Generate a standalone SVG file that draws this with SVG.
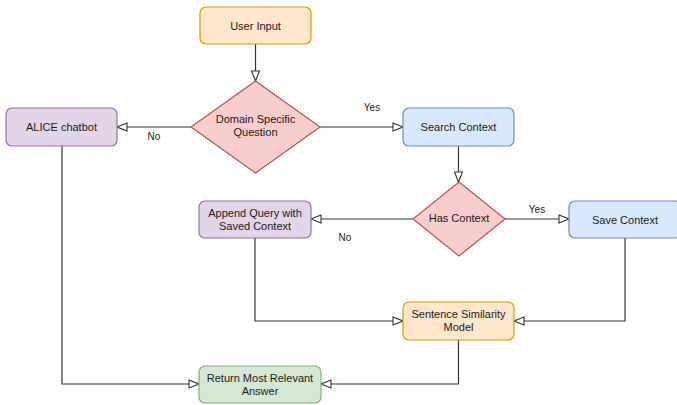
<svg xmlns="http://www.w3.org/2000/svg" width="677" height="405" viewBox="0 0 677 405">
  <style>
    .box { stroke-width: 1.2; }
    .orange { fill: #ffe6cc; stroke: #d79b00; }
    .red { fill: #f8cecc; stroke: #b85450; }
    .purple { fill: #e1d5e7; stroke: #9673a6; }
    .blue { fill: #dae8fc; stroke: #6c8ebf; }
    .green { fill: #d5e8d4; stroke: #82b366; }
    .label { font-family: "Liberation Sans", Arial, Helvetica, sans-serif; font-size: 11px; fill: #1a1a1a; text-anchor: middle; }
    .edge { fill: none; stroke: #333333; stroke-width: 1.2; marker-end: url(#open); }
    .elabel { font-family: "Liberation Sans", Arial, Helvetica, sans-serif; font-size: 10px; fill: #1a1a1a; text-anchor: middle; }
  </style>
  <defs>
    <marker id="open" viewBox="0 0 12 10" refX="11" refY="5" markerWidth="12" markerHeight="10" markerUnits="userSpaceOnUse" orient="auto">
      <path d="M1,1 L11,5 L1,9 Z" fill="#ffffff" stroke="#333333" stroke-width="1.1"/>
    </marker>
  </defs>
  <rect width="677" height="405" fill="#ffffff"/>

  <g id="connectors">
    <path class="edge" d="M255.5,44 L255.5,81"/>
    <path class="edge" d="M191,127 L117,127"/>
    <path class="edge" d="M320,127 L403,127"/>
    <path class="edge" d="M458.5,146 L458.5,182"/>
    <path class="edge" d="M413,219 L311,219"/>
    <path class="edge" d="M505,219 L569,219"/>
    <path class="edge" d="M62,146 L62,384 L199,384"/>
    <path class="edge" d="M255,238 L255,321 L403,321"/>
    <path class="edge" d="M625,238 L625,321 L514,321"/>
    <path class="edge" d="M458.5,340 L458.5,384 L321,384"/>
    <text class="elabel" x="154" y="140">No</text>
    <text class="elabel" x="372" y="111">Yes</text>
    <text class="elabel" x="537" y="213">Yes</text>
    <text class="elabel" x="345" y="241">No</text>
  </g>

  <g id="user-input">
    <rect class="box orange" x="200" y="7" width="111" height="37" rx="6"/>
    <text class="label" x="255.5" y="29.5">User Input</text>
  </g>

  <g id="domain-specific-question">
    <polygon class="box red" points="255.5,81 320,127 255.5,173 191,127"/>
    <text class="label" x="255.5" y="123">Domain Specific</text>
    <text class="label" x="255.5" y="136">Question</text>
  </g>

  <g id="alice-chatbot">
    <rect class="box purple" x="6" y="108" width="111" height="38" rx="6"/>
    <text class="label" x="61.5" y="131">ALICE chatbot</text>
  </g>

  <g id="search-context">
    <rect class="box blue" x="403" y="108" width="111" height="38" rx="6"/>
    <text class="label" x="458.5" y="131">Search Context</text>
  </g>

  <g id="has-context">
    <polygon class="box red" points="459,182 505,219 459,256 413,219"/>
    <text class="label" x="459" y="222">Has Context</text>
  </g>

  <g id="save-context">
    <rect class="box blue" x="569" y="201" width="112" height="37" rx="6"/>
    <text class="label" x="625" y="223.5">Save Context</text>
  </g>

  <g id="append-query">
    <rect class="box purple" x="199" y="201" width="112" height="37" rx="6"/>
    <text class="label" x="255" y="217">Append Query with</text>
    <text class="label" x="255" y="230">Saved Context</text>
  </g>

  <g id="sentence-similarity-model">
    <rect class="box orange" x="403" y="302" width="111" height="38" rx="6"/>
    <text class="label" x="458.5" y="318">Sentence Similarity</text>
    <text class="label" x="458.5" y="331">Model</text>
  </g>

  <g id="return-answer">
    <rect class="box green" x="199" y="366" width="122" height="37" rx="6"/>
    <text class="label" x="260" y="382">Return Most Relevant</text>
    <text class="label" x="260" y="395">Answer</text>
  </g>
</svg>
